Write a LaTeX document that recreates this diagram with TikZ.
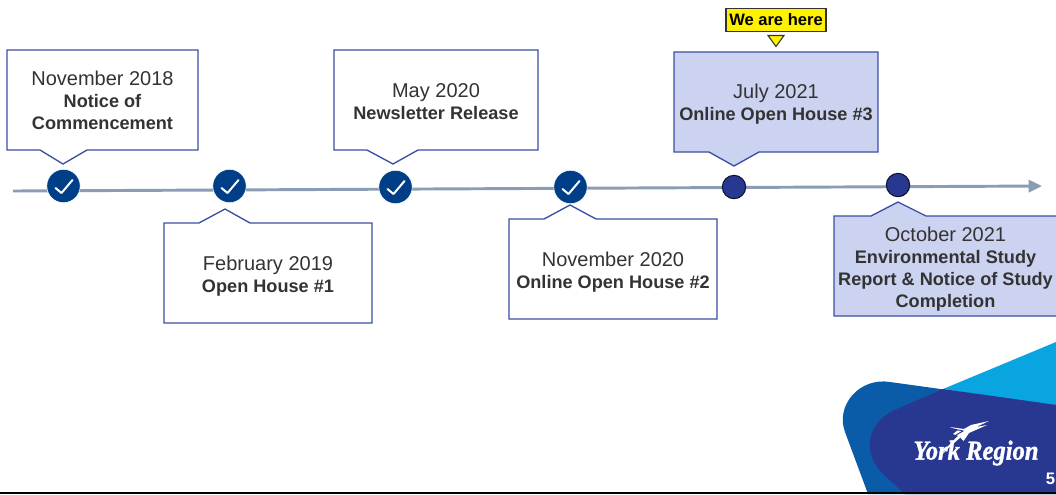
\documentclass[tikz,border=0pt]{standalone}
\usepackage{fontspec}
\usetikzlibrary{arrows.meta}
\setmainfont{Liberation Sans}
\newfontfamily\logofont[BoldItalicFeatures={FakeBold=1.3}]{Liberation Serif}
\definecolor{edgeblue}{HTML}{3A4FA3}
\definecolor{fillblue}{HTML}{CBD3F1}
\definecolor{linegray}{HTML}{8A9DB5}
\definecolor{checkblue}{HTML}{003F87}
\definecolor{dotblue}{HTML}{283891}
\definecolor{txt}{HTML}{333333}
\definecolor{sky}{HTML}{09A5E0}
\definecolor{midblue}{HTML}{0B5CA8}
\newcommand{\bd}[1]{{\fontsize{13.6}{16.5}\selectfont\bfseries #1}}
\tikzset{
  x=0.75pt,y=-0.75pt,
  callout/.style={draw=edgeblue,line width=1pt,line join=miter},
  label/.style={text=txt,align=center,font=\fontsize{15}{16.5}\selectfont,inner sep=0pt},
  checkdot/.style={circle,fill=checkblue,draw=white,line width=0.4pt,minimum size=25pt,inner sep=0pt},
  plaindot/.style={circle,fill=dotblue,draw=black!70!dotblue,line width=0.8pt,minimum size=17.5pt,inner sep=0pt},
  tick/.style={draw=white,line width=1.5pt,line cap=round,line join=round},
}
\newcommand{\chk}[1]{\draw[tick] ([shift={(-8,2)}]#1.center) -- ([shift={(-2,7)}]#1.center) -- ([shift={(9,-6)}]#1.center);}
\begin{document}
\begin{tikzpicture}
\useasboundingbox (0,0) rectangle (1056,494);
\clip (0,0) rectangle (1056,494);
% logo
\fill[sky] (943,389) -- (1056,342) -- (1056,406) -- cycle;
\fill[midblue] (1056,405) -- (890,382) .. controls (860,377) and (835,405) .. (845,432) -- (868,494) -- (1056,494) -- cycle;
\fill[dotblue] (943,389) -- (1056,405) -- (1056,494) -- (905,494) -- (884,475) .. controls (862,455) and (865,422) .. (897,409) -- cycle;
\node[text=white,inner sep=0pt,font={\logofont\bfseries\itshape\fontsize{20.5}{21}\selectfont}] (logo) at (976,453) {\scalebox{0.9}[1]{York Region}};
\fill[white] (950,427) -- (964,429) -- (971,425) -- (989,421) -- (976,427) -- (987,425) -- (969,433) -- (963.5,441) -- (959,436) -- (953,434) -- (958,430) -- cycle;
\fill[white] (941,456) .. controls (947,446) and (953,441) .. (959,435) -- (961,437) .. controls (954,443) and (947,449) .. (941,456) -- cycle;
\draw[dotblue,line width=0.7pt] (954,429) -- (963,431) -- (956,435);
% timeline
\coordinate (start) at (13,191);
\coordinate (end) at (1042,186);
\draw[linegray,line width=2.2pt,-{Triangle[length=10pt,width=9pt]}] (start) -- (end);
% callouts
\draw[callout,fill=white] (7,50) -- (198,50) -- (198,150) -- (87,150) -- (63,164) -- (40,150) -- (7,150) -- cycle;
\draw[callout,fill=white] (164,223) -- (199,223) -- (225,209) -- (250,223) -- (372,223) -- (372,323) -- (164,323) -- cycle;
\draw[callout,fill=white] (334,50) -- (538,50) -- (538,150) -- (418,150) -- (393,164) -- (367,150) -- (334,150) -- cycle;
\draw[callout,fill=white] (509,219) -- (544,219) -- (570,205) -- (596,219) -- (717,219) -- (717,319) -- (509,319) -- cycle;
\draw[callout,fill=fillblue] (674,52) -- (878,52) -- (878,152) -- (759,152) -- (734,166) -- (709,152) -- (674,152) -- cycle;
\draw[callout,fill=fillblue] (834,216) -- (871,216) -- (898,202) -- (926,216) -- (1060,216) -- (1060,316) -- (834,316) -- cycle;
% labels
\node[label] (n1) at (102.5,100.5) {November 2018\\\bd{Notice of}\\\bd{Commencement}};
\node[label] (n2) at (268,276.5) {February 2019\\\bd{Open House \#1}};
\node[label] (n3) at (436,101.5) {May 2020\\\bd{Newsletter Release}};
\node[label] (n4) at (613,272) {November 2020\\\bd{Online Open House \#2}};
\node[label] (n5) at (776,104.5) {July 2021\\\bd{Online Open House \#3}};
\node[label] (n6) at (945.5,269) {October 2021\\\bd{Environmental Study}\\\bd{Report \& Notice of Study}\\\bd{Completion}};
% dots
\node[checkdot] (d1) at (63.5,186) {};
\node[checkdot] (d2) at (229.5,186) {};
\node[checkdot] (d3) at (395.5,187) {};
\node[checkdot] (d4) at (570.5,187) {};
\chk{d1}\chk{d2}\chk{d3}\chk{d4}
\node[plaindot] (d5) at (734,187) {};
\node[plaindot] (d6) at (898,185) {};
% here
\node[draw=black!80,fill=yellow,line width=0.8pt,minimum width=75pt,minimum height=17pt,inner sep=0pt,text=black,font=\bfseries\fontsize{12.4}{14}\selectfont] (here) at (776,20) {We are here};
\draw[black!80,fill=yellow,line width=0.8pt] (768,35.5) -- (784,35.5) -- (776,46.5) -- cycle;
% page
\fill[black] (0,491.5) rectangle (1056,494);
\node[text=white,font=\bfseries\fontsize{12.5}{14}\selectfont,inner sep=0pt,anchor=east] (page) at (1055.5,479) {5};
\end{tikzpicture}
\end{document}
